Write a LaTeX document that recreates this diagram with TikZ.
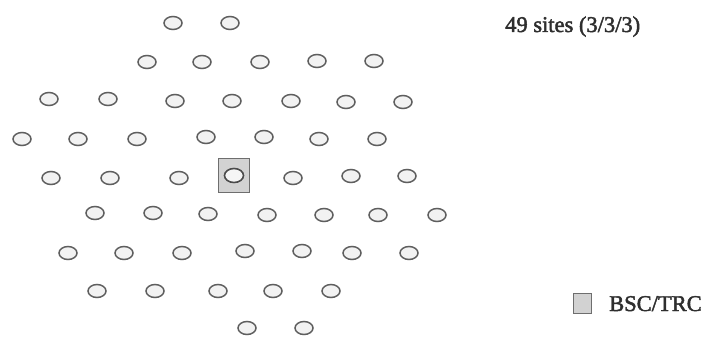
\documentclass[tikz,border=0pt]{standalone}
\usepackage{fontspec}
\setmainfont{Liberation Serif}
\newfontfamily\lblfont{Liberation Serif}[FakeBold=2]
\usetikzlibrary{shapes.geometric}
\definecolor{ink}{HTML}{2E2E2E}
\definecolor{siteline}{HTML}{5E5E5E}
\definecolor{boxfill}{HTML}{D2D2D2}
\definecolor{boxline}{HTML}{6E6E6E}
\tikzset{
  site/.style={ellipse, draw=siteline, line width=1.5pt, fill=white!95!black,
    minimum width=18pt, minimum height=13pt, inner sep=0pt},
  bigsite/.style={ellipse, draw=siteline!80!black, line width=1.6pt, fill=white!96!black,
    minimum width=19pt, minimum height=14pt, inner sep=0pt},
  bscbox/.style={rectangle, draw=boxline, line width=1.6pt, fill=boxfill,
    minimum width=31pt, minimum height=34pt, inner sep=0pt},
  legbox/.style={rectangle, draw=boxline, line width=1.6pt, fill=boxfill,
    minimum width=18pt, minimum height=20pt, inner sep=0pt},
  label/.style={font=\lblfont\fontsize{22.5}{26}\selectfont, text=ink, inner sep=0pt, anchor=base west}
}
\begin{document}
\begin{tikzpicture}[x=1pt,y=-1pt]
\useasboundingbox (0,0) rectangle (703,337);
\foreach \px/\py [count=\i] in {
  173/23, 230/23,
  147/62, 202/62, 260/62, 317/61, 374/61,
  49/99, 108/99, 175/101, 232/101, 291/101, 346/102, 403/102,
  22/139, 78/139, 137/139, 206/137, 264/137, 319/139, 377/139,
  51/178, 110/178, 179/178, 293/178, 351/176, 407/176,
  95/213, 153/213, 208/214, 267/215, 324/215, 378/215, 437/215,
  68/253, 124/253, 182/253, 245/251, 302/251, 352/253, 409/253,
  97/291, 155/291, 218/291, 273/291, 331/291,
  247/328, 304/328}
{
  \node[site] (s\i) at (\px,\py) {};
}
\node[bscbox] (bsc) at (234,175.5) {};
\node[bigsite] (s49) at (bsc.center) {};
\node[label] (title) at (505,32) {49 sites (3/3/3)};
\node[legbox] (leg) at (582.5,303.5) {};
\node[label] (legtext) at (609,311) {BSC/TRC};
\end{tikzpicture}
\end{document}
